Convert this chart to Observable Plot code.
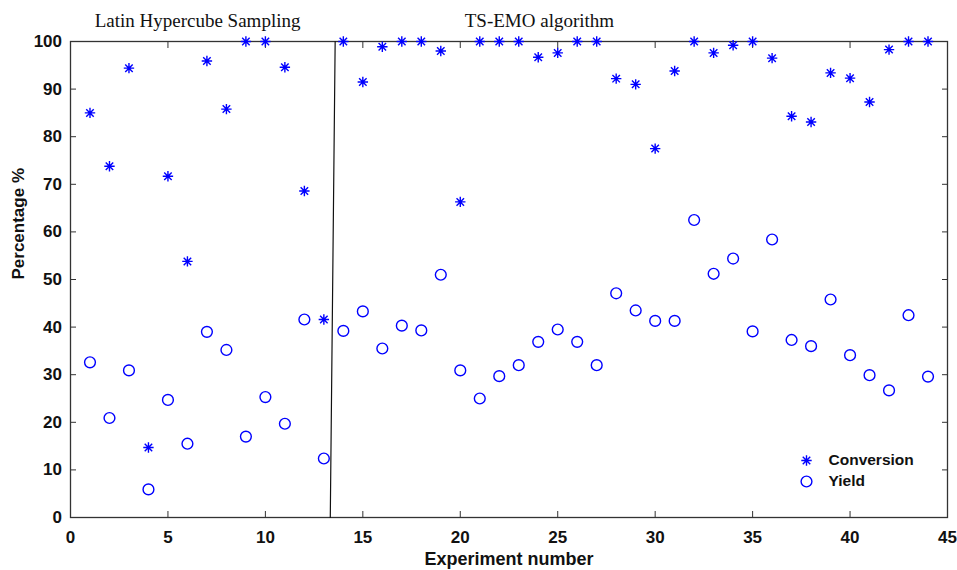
<!DOCTYPE html>
<html>
<head>
<meta charset="utf-8">
<script src="https://cdn.jsdelivr.net/npm/d3@7"></script>
<script src="https://cdn.jsdelivr.net/npm/@observablehq/plot@0.6"></script>
<style>
  html, body { margin: 0; padding: 0; background: #fff; }
  #chart { width: 957px; height: 570px; }
</style>
</head>
<body>
<div id="chart"></div>
<script>
// ---- data ----
const experiments = [1,2,3,4,5,6,7,8,9,10,11,12,13,14,15,16,17,18,19,20,21,22,23,24,25,26,27,28,29,30,31,32,33,34,35,36,37,38,39,40,41,42,43,44];
const conversion = [85.0, 73.8, 94.4, 14.7, 71.7, 53.8, 95.9, 85.8, 100, 100, 94.6, 68.6, 41.6,
  100, 91.5, 98.9, 100, 100, 98.0, 66.3, 100, 100, 100, 96.7, 97.6, 100, 100, 92.2, 91.0, 77.5,
  93.8, 100, 97.6, 99.2, 100, 96.5, 84.3, 83.1, 93.4, 92.3, 87.3, 98.3, 100, 100];
const yieldVals = [32.6, 20.9, 30.9, 5.9, 24.7, 15.5, 39.0, 35.2, 17.0, 25.3, 19.7, 41.6, 12.4,
  39.2, 43.3, 35.5, 40.3, 39.3, 51.0, 30.9, 25.0, 29.7, 32.0, 36.9, 39.5, 36.9, 32.0, 47.1, 43.5, 41.3,
  41.3, 62.5, 51.2, 54.4, 39.1, 58.4, 37.3, 36.0, 45.8, 34.1, 29.9, 26.7, 42.5, 29.6];
const xTicks = [0,5,10,15,20,25,30,35,40,45];
const yTicks = [0,10,20,30,40,50,60,70,80,90,100];
const sepX = [13.33, 13.58];
const sepY = [0, 100];
const phaseTitles = ["Latin Hypercube Sampling", "TS-EMO algorithm"];
const phaseTitleX = [6.52, 24.06];
const legendLabels = ["Conversion", "Yield"];

const convData = experiments.map((e, i) => ({x: e, y: conversion[i]}));
const yieldData = experiments.map((e, i) => ({x: e, y: yieldVals[i]}));
const sepData = sepX.map((x, i) => ({x, y: sepY[i]}));
const titleData = phaseTitles.map((t, i) => ({t, x: phaseTitleX[i]}));

// MATLAB-style '*' marker: plus + cross
const star = {
  draw(ctx, size) {
    const r = Math.sqrt(size / Math.PI);
    const d = r * 0.72;
    ctx.moveTo(0, -r); ctx.lineTo(0, r);
    ctx.moveTo(-r, 0); ctx.lineTo(r, 0);
    ctx.moveTo(-d, -d); ctx.lineTo(d, d);
    ctx.moveTo(-d, d); ctx.lineTo(d, -d);
  }
};

const blue = "#0000ff";
const sans = "'Liberation Sans', Arial, sans-serif";
const serif = "'Liberation Serif', 'Times New Roman', serif";

const chart = Plot.plot({
  width: 957,
  height: 570,
  marginLeft: 70,
  marginRight: 10,
  marginTop: 41,
  marginBottom: 53,
  style: {fontFamily: sans, background: "#fff", color: "#111"},
  x: {domain: [0, 45], label: null},
  y: {domain: [0, 100], label: null},
  marks: [
    Plot.frame({stroke: "#333", strokeWidth: 1.3}),
    Plot.axisX({ticks: xTicks, tickSize: -6, tickPadding: 19, fontSize: 17, fontWeight: "bold", stroke: "#333", tickFormat: d => d}),
    Plot.axisX({anchor: "top", ticks: xTicks, tickSize: -6, stroke: "#333", tickFormat: () => ""}),
    Plot.axisY({ticks: yTicks, tickSize: -6, tickPadding: 14.5, fontSize: 17, fontWeight: "bold", stroke: "#333", tickFormat: d => d}),
    Plot.axisY({anchor: "right", ticks: yTicks, tickSize: -6, stroke: "#333", tickFormat: () => ""}),
    Plot.line(sepData, {x: "x", y: "y", stroke: "#111", strokeWidth: 1.2}),
    Plot.dot(yieldData, {x: "x", y: "y", r: 5.4, symbol: "circle", stroke: blue, fill: "none", strokeWidth: 1.4}),
    Plot.dot(convData, {x: "x", y: "y", r: 5.2, symbol: star, stroke: blue, fill: "none", strokeWidth: 1.4}),
    // phase titles
    Plot.text(titleData, {x: "x", text: "t", frameAnchor: "top", dy: -21, fontFamily: serif, fontSize: 19, fill: "#111", lineAnchor: "middle"}),
    // axis labels
    Plot.text(["Experiment number"], {frameAnchor: "bottom", dy: 42, fontSize: 18, fontWeight: "bold", fill: "#111", lineAnchor: "middle"}),
    Plot.text(["Percentage %"], {frameAnchor: "left", dx: -52, rotate: -90, fontSize: 17, fontWeight: "bold", fill: "#111", lineAnchor: "middle"}),
    // legend
    Plot.dot([legendLabels[0]], {frameAnchor: "bottom-right", dx: -141, dy: -57, r: 5.2, symbol: star, stroke: blue, fill: "none", strokeWidth: 1.4}),
    Plot.dot([legendLabels[1]], {frameAnchor: "bottom-right", dx: -141, dy: -36, r: 5.4, symbol: "circle", stroke: blue, fill: "none", strokeWidth: 1.4}),
    Plot.text([legendLabels[0]], {frameAnchor: "bottom-right", dx: -119, dy: -57, text: d => d, textAnchor: "start", fontSize: 15.5, fontWeight: "bold", fill: "#111", lineAnchor: "middle"}),
    Plot.text([legendLabels[1]], {frameAnchor: "bottom-right", dx: -119, dy: -36, text: d => d, textAnchor: "start", fontSize: 15.5, fontWeight: "bold", fill: "#111", lineAnchor: "middle"})
  ]
});
document.getElementById("chart").appendChild(chart);
</script>
</body>
</html>
